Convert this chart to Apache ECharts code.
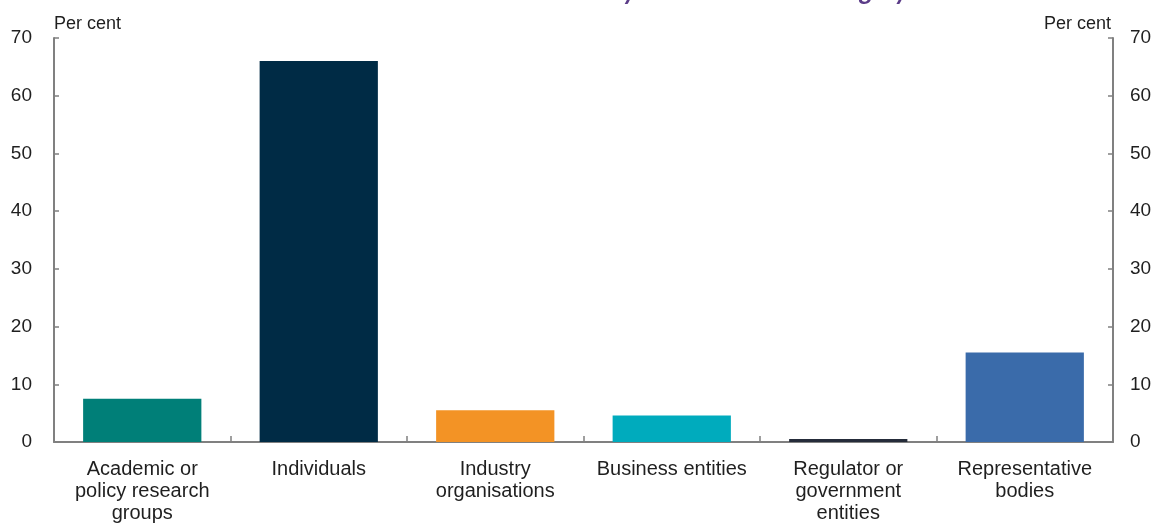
<!DOCTYPE html>
<html>
<head>
<meta charset="utf-8">
<script src="https://cdn.jsdelivr.net/npm/echarts@6/dist/echarts.min.js"></script>
<style>
html,body{margin:0;padding:0;background:#fff;}
#chart{width:1161px;height:524px;}
</style>
</head>
<body>
<div id="chart"></div>
<script>
const titleText = 'Submissions by main submitter category';
const unitLabel = 'Per cent';
const categories = [
  'Academic or\npolicy research\ngroups',
  'Individuals',
  'Industry\norganisations',
  'Business entities',
  'Regulator or\ngovernment\nentities',
  'Representative\nbodies'
];
const values = [7.5, 66, 5.5, 4.6, 0.5, 15.5];
const barColors = ['#007F78', '#002B45', '#F39325', '#00ABBD', '#252C3A', '#3A6BAA'];
const yMin = 0, yMax = 70, yStep = 10;

const chart = echarts.init(document.getElementById('chart'), null, {renderer: 'canvas'});
const FONT = 'Liberation Sans, Arial, sans-serif';
const axisColor = '#808080';
const textColor = '#1f1f1f';

const yAxisCommon = {
  type: 'value', min: yMin, max: yMax, interval: yStep,
  axisLine: {show: true, lineStyle: {color: axisColor, width: 2}},
  axisTick: {show: true, inside: true, length: 5, lineStyle: {color: axisColor, width: 1.5}},
  splitLine: {show: false},
  axisLabel: {color: textColor, fontSize: 19, fontFamily: FONT}
};

chart.setOption({
  animation: false,
  backgroundColor: '#fff',
  grid: {left: 54, right: 48, top: 38, bottom: 82, containLabel: false},
  graphic: [
    {type: 'text', x: 54, y: 24, style: {text: unitLabel, fontSize: 18, fontFamily: FONT, fill: textColor, textAlign: 'left', textVerticalAlign: 'middle'}},
    {type: 'text', x: 1111, y: 24, style: {text: unitLabel, fontSize: 18, fontFamily: FONT, fill: textColor, textAlign: 'right', textVerticalAlign: 'middle'}},
    {type: 'text', x: 908, y: 5, style: {text: titleText, fontSize: 26, fontWeight: 'bold', fontStyle: 'italic', fontFamily: 'Lato, sans-serif', fill: '#5B3C88', textAlign: 'right', textVerticalAlign: 'bottom'}}
  ],
  xAxis: {
    type: 'category', data: categories,
    axisLine: {show: true, lineStyle: {color: axisColor, width: 2}},
    axisTick: {show: true, inside: true, length: 6, alignWithLabel: false, lineStyle: {color: axisColor, width: 1.5}},
    axisLabel: {color: textColor, fontSize: 20, fontFamily: FONT, lineHeight: 22, margin: 16, interval: 0}
  },
  yAxis: [
    Object.assign({}, yAxisCommon, {position: 'left', axisLabel: Object.assign({}, yAxisCommon.axisLabel, {margin: 22})}),
    Object.assign({}, yAxisCommon, {position: 'right', axisLabel: Object.assign({}, yAxisCommon.axisLabel, {margin: 17})})
  ],
  series: [{
    type: 'bar',
    barWidth: '67%',
    data: values.map((v, i) => ({value: v, itemStyle: {color: barColors[i]}}))
  }]
});
</script>
</body>
</html>
